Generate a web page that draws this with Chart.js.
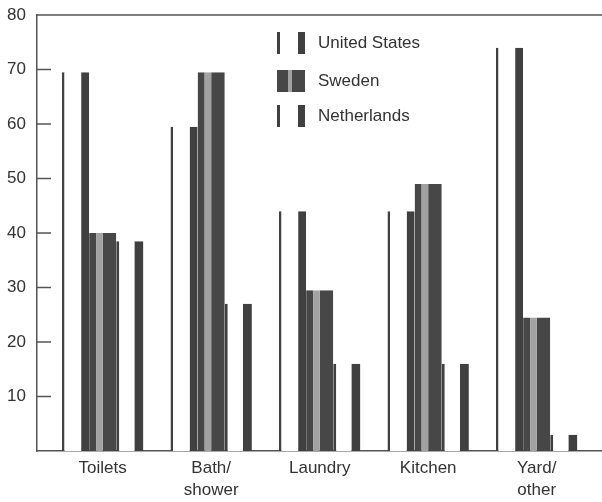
<!DOCTYPE html>
<html>
<head>
<meta charset="utf-8">
<script src="https://cdn.jsdelivr.net/npm/chart.js@4"></script>
<style>
  body { margin: 0; background: #fff; }
  canvas { display: block; }
</style>
</head>
<body>
<canvas id="chart" width="602" height="502"></canvas>
<script>
const categories = ['Toilets', ['Bath/', 'shower'], 'Laundry', 'Kitchen', ['Yard/', 'other']];
const seriesNames = ['United States', 'Sweden', 'Netherlands'];
const usValues = [69.5, 59.5, 44, 44, 74];
const swedenValues = [40, 69.5, 29.5, 49, 24.5];
const netherlandsValues = [38.5, 27, 16, 16, 3];
const yTicks = [10, 20, 30, 40, 50, 60, 70, 80];

const FONT = "'Liberation Sans', Arial, sans-serif";
const DARK = '#404040';
const INK = '#333';

const toPoints = vals => vals.map((v, i) => ({ x: i, y: v }));

const styles = [
  { backgroundColor: '#ffffff', borderColor: DARK, borderWidth: { left: 2.5, right: 8, top: 0, bottom: 0 } },
  { backgroundColor: '#a2a2a2', borderColor: '#474747', borderWidth: { left: 7, right: 15, top: 0, bottom: 0 } },
  { backgroundColor: '#ffffff', borderColor: DARK, borderWidth: { left: 3, right: 9, top: 0, bottom: 0 } }
];

// frame line on top, inner tick marks and the boxed legend
const decorations = {
  id: 'decorations',
  afterDraw(chart) {
    const { ctx, chartArea: a, scales: { y } } = chart;
    ctx.save();
    ctx.strokeStyle = '#555';
    ctx.lineWidth = 1.5;
    ctx.beginPath();
    ctx.moveTo(a.left, a.top);
    ctx.lineTo(a.right, a.top);
    yTicks.forEach(v => {
      if (v >= 80) return;
      const py = y.getPixelForValue(v);
      ctx.moveTo(a.left, py);
      ctx.lineTo(a.left + 14, py);
    });
    ctx.stroke();

    const rows = [43, 81, 116];
    const sx = 277, sw = 28, sh = 22;
    seriesNames.forEach((name, i) => {
      const st = styles[i];
      const top = rows[i] - sh / 2;
      ctx.fillStyle = st.borderColor;
      ctx.fillRect(sx, top, sw, sh);
      ctx.fillStyle = st.backgroundColor;
      const l = i === 1 ? 11 : 3, r = i === 1 ? 13 : 7;
      ctx.fillRect(sx + l, top, sw - l - r, sh);
      ctx.fillStyle = INK;
      ctx.font = '17px ' + FONT;
      ctx.textBaseline = 'middle';
      ctx.textAlign = 'left';
      ctx.fillText(name, 318, rows[i]);
    });
    ctx.restore();
  }
};

new Chart(document.getElementById('chart'), {
  type: 'bar',
  data: {
    datasets: [
      { label: seriesNames[0], data: toPoints(usValues), ...styles[0] },
      { label: seriesNames[1], data: toPoints(swedenValues), ...styles[1] },
      { label: seriesNames[2], data: toPoints(netherlandsValues), ...styles[2] }
    ]
  },
  options: {
    responsive: false,
    animation: false,
    categoryPercentage: 0.75,
    barPercentage: 1,
    layout: { padding: { top: 15, right: 0, bottom: 0, left: 0 } },
    plugins: {
      legend: { display: false },
      tooltip: { enabled: false }
    },
    scales: {
      x: {
        type: 'linear',
        min: -0.6055,
        max: 4.602,
        offset: false,
        afterBuildTicks: s => { s.ticks = categories.map((c, i) => ({ value: i })); },
        afterFit: s => { s.height = 51; s.paddingLeft = 0; s.paddingRight = 0; },
        grid: { display: false, drawTicks: false, offset: false },
        border: { display: true, color: '#555', width: 1.5 },
        ticks: {
          callback: v => categories[v],
          color: INK,
          font: { family: FONT, size: 17, lineHeight: 1.3 },
          padding: 6,
          maxRotation: 0,
          autoSkip: false
        }
      },
      y: {
        min: 0,
        max: 80,
        afterBuildTicks: s => { s.ticks = yTicks.map(v => ({ value: v })); },
        afterFit: s => { s.width = 37; s.paddingTop = 0; s.paddingBottom = 0; },
        grid: { display: false, drawTicks: false },
        border: { display: true, color: '#555', width: 1.5 },
        ticks: {
          color: INK,
          font: { family: FONT, size: 17 },
          padding: 11
        }
      }
    }
  },
  plugins: [decorations]
});
</script>
</body>
</html>
